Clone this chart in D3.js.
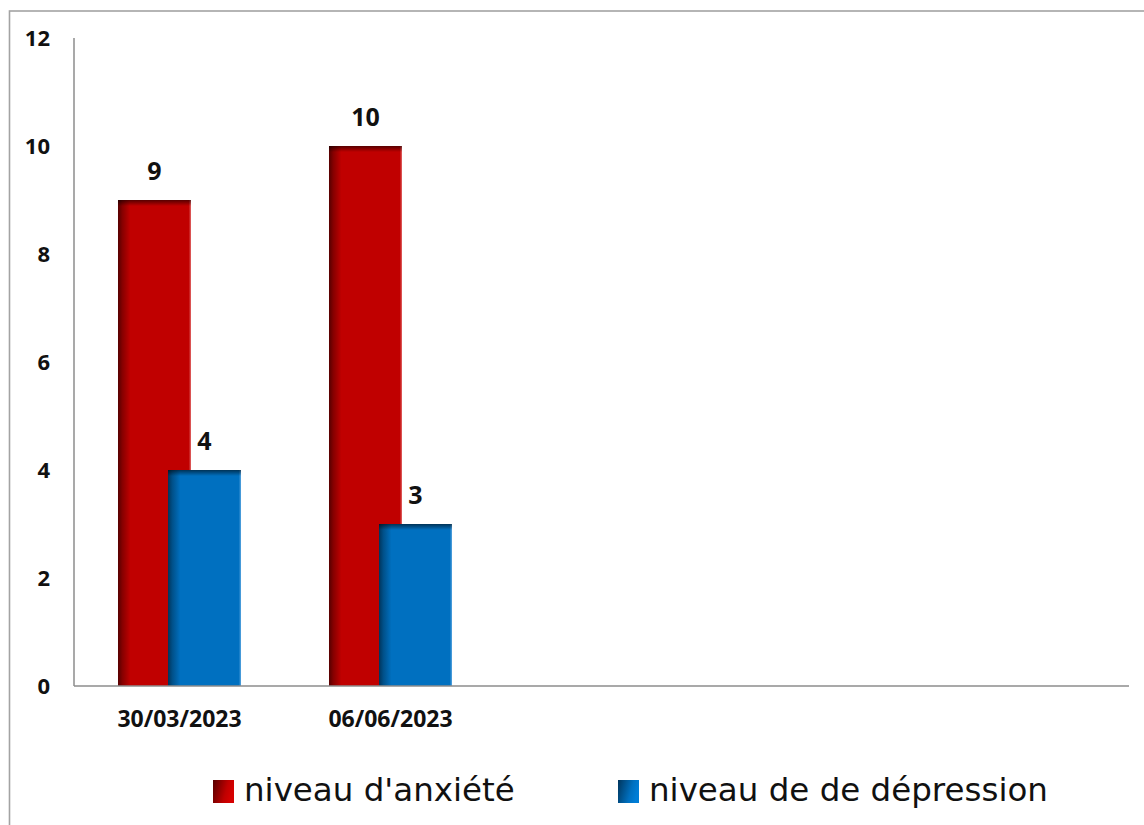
<!DOCTYPE html>
<html>
<head>
<meta charset="utf-8">
<script src="https://cdn.jsdelivr.net/npm/d3@7"></script>
<style>
  html, body { margin: 0; padding: 0; background: #ffffff; }
  svg { display: block; }
</style>
</head>
<body>
<svg id="chart" width="1144" height="825"></svg>
<script>
// Dates of the two assessments (the remaining slots of the category axis stay empty)
const categories = ["30/03/2023", "06/06/2023", "", "", ""];
const seriesNames = ["niveau d'anxiété", "niveau de de dépression"];
const anxiety = [9, 10];
const depression = [4, 3];
const yTicks = [0, 2, 4, 6, 8, 10, 12];

const seriesValues = [anxiety, depression];
const baseColors = ["#c00000", "#0070c0"];
const darkColors = ["#560000", "#00355c"];
const edgeColors = ["#e26a6a", "#5aa6e0"];

const svg = d3.select("#chart");
const W = 1144, H = 825;
const plot = { left: 74, right: 1129, top: 38, bottom: 686 };

svg.append("rect").attr("width", W).attr("height", H).attr("fill", "#ffffff");

// outer chart frame (runs off the right and bottom edges)
svg.append("rect")
  .attr("x", 9.5).attr("y", 11)
  .attr("width", W + 20).attr("height", H + 20)
  .attr("fill", "none")
  .attr("stroke", "#a3a3a3")
  .attr("stroke-width", 1.6);

const x = d3.scaleBand()
  .domain(d3.range(categories.length))
  .range([plot.left, plot.right])
  .padding(0);

const y = d3.scaleLinear()
  .domain([0, 12])
  .range([plot.bottom, plot.top]);

// gradients giving the bars their bevelled left edge and top shading
const defs = svg.append("defs");
seriesValues.forEach((_, s) => {
  const gh = defs.append("linearGradient")
    .attr("id", "side" + s)
    .attr("x1", 0).attr("x2", 1).attr("y1", 0).attr("y2", 0);
  gh.append("stop").attr("offset", 0).attr("stop-color", darkColors[s]);
  gh.append("stop").attr("offset", 0.06).attr("stop-color", d3.interpolateRgb(darkColors[s], baseColors[s])(0.45));
  gh.append("stop").attr("offset", 0.17).attr("stop-color", baseColors[s]);
  gh.append("stop").attr("offset", 0.97).attr("stop-color", baseColors[s]);
  gh.append("stop").attr("offset", 1).attr("stop-color", edgeColors[s]);

  const gl = defs.append("linearGradient")
    .attr("id", "legend" + s)
    .attr("x1", 0).attr("x2", 1).attr("y1", 0).attr("y2", 0.3);
  gl.append("stop").attr("offset", 0).attr("stop-color", darkColors[s]);
  gl.append("stop").attr("offset", 0.7).attr("stop-color", baseColors[s]);
  gl.append("stop").attr("offset", 1).attr("stop-color", d3.color(baseColors[s]).brighter(0.3));
});
const gt = defs.append("linearGradient")
  .attr("id", "topShade")
  .attr("x1", 0).attr("x2", 0).attr("y1", 0).attr("y2", 1);
gt.append("stop").attr("offset", 0).attr("stop-color", "#000").attr("stop-opacity", 0.55);
gt.append("stop").attr("offset", 1).attr("stop-color", "#000").attr("stop-opacity", 0);

// axes
const yAxis = d3.axisLeft(y).tickValues(yTicks).tickSize(0).tickPadding(24);
const gy = svg.append("g").attr("transform", `translate(${plot.left},0)`).call(yAxis);
gy.select(".domain").remove();
gy.selectAll("text")
  .attr("font-family", "'Open Sans', sans-serif")
  .attr("font-weight", "bold")
  .attr("font-size", 22)
  .attr("fill", "#111");

const xAxis = d3.axisBottom(x).tickFormat(i => categories[i]).tickSize(0);
const gx = svg.append("g").attr("transform", `translate(0,${plot.bottom})`).call(xAxis);
gx.select(".domain").remove();
gx.selectAll("text")
  .attr("y", 41).attr("dy", 0)
  .attr("font-family", "'Open Sans', sans-serif")
  .attr("font-weight", "bold")
  .attr("font-size", 23)
  .attr("fill", "#111");

// bars
const barW = x.bandwidth() * 0.346;
const shift = barW * 0.685;
const groupW = barW + shift;

seriesValues.forEach((vals, s) => {
  const g = svg.append("g");
  const bx = i => x(i) + (x.bandwidth() - groupW) / 2 + s * shift;
  g.selectAll("rect.bar")
    .data(vals)
    .join("rect")
    .attr("class", "bar")
    .attr("x", (d, i) => bx(i))
    .attr("y", d => y(d))
    .attr("width", barW)
    .attr("height", d => y(0) - y(d))
    .attr("fill", `url(#side${s})`);
  g.selectAll("rect.top")
    .data(vals)
    .join("rect")
    .attr("class", "top")
    .attr("x", (d, i) => bx(i))
    .attr("y", d => y(d))
    .attr("width", barW)
    .attr("height", 6)
    .attr("fill", "url(#topShade)");
  g.selectAll("text")
    .data(vals)
    .join("text")
    .attr("x", (d, i) => bx(i) + barW / 2)
    .attr("y", d => y(d) - 20)
    .attr("text-anchor", "middle")
    .attr("font-family", "'Open Sans', sans-serif")
    .attr("font-weight", "bold")
    .attr("font-size", 25)
    .attr("fill", "#111")
    .text(d => d);
});

// axis lines
svg.append("line")
  .attr("x1", plot.left).attr("x2", plot.left)
  .attr("y1", plot.top).attr("y2", plot.bottom)
  .attr("stroke", "#8c8c8c").attr("stroke-width", 1.5);
svg.append("line")
  .attr("x1", plot.left).attr("x2", plot.right)
  .attr("y1", plot.bottom).attr("y2", plot.bottom)
  .attr("stroke", "#8c8c8c").attr("stroke-width", 1.5);

// legend
const legendX = [213, 618];
const legend = svg.append("g");
seriesNames.forEach((name, s) => {
  legend.append("rect")
    .attr("x", legendX[s]).attr("y", 780)
    .attr("width", 21).attr("height", 23)
    .attr("fill", `url(#legend${s})`);
  legend.append("text")
    .attr("x", legendX[s] + 31).attr("y", 801)
    .attr("font-family", "'DejaVu Sans', sans-serif")
    .attr("font-size", 32.5)
    .attr("fill", "#111")
    .text(name);
});
</script>
</body>
</html>
